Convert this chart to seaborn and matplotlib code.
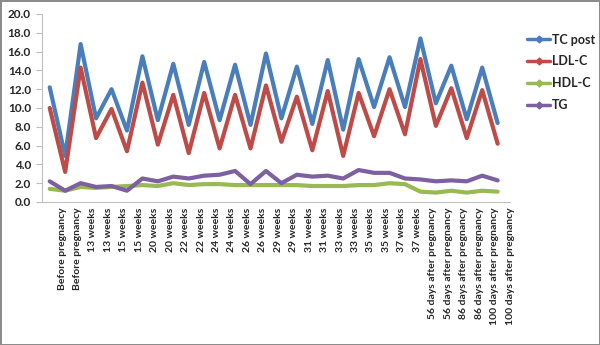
#!/usr/bin/env python

import numpy as np
import pandas as pd
import matplotlib.pyplot as plt
import matplotlib as mpl
import seaborn as sns

## ============================== ##

categories = ['Before pregnancy', 'Before pregnancy',
	'13 weeks', '13 weeks', '15 weeks', '15 weeks', '20 weeks', '20 weeks',
	'22 weeks', '22 weeks', '24 weeks', '24 weeks', '26 weeks', '26 weeks',
	'29 weeks', '29 weeks', '31 weeks', '31 weeks', '33 weeks', '33 weeks',
	'35 weeks', '35 weeks', '37 weeks', '37 weeks',
	'56 days after pregnancy', '56 days after pregnancy',
	'86 days after pregnancy', '86 days after pregnancy',
	'100 days after pregnancy', '100 days after pregnancy']

tc_post = [12.2, 4.9, 16.8, 8.9, 12.0, 7.6, 15.5, 8.7, 14.7, 8.2,
	14.9, 8.7, 14.6, 8.2, 15.8, 8.9, 14.4, 8.3, 15.1, 7.7,
	15.2, 10.1, 15.4, 10.1, 17.4, 10.5, 14.5, 8.8, 14.3, 8.4]
ldl_c = [10.0, 3.2, 14.3, 6.8, 9.9, 5.4, 12.7, 6.1, 11.4, 5.2,
	11.6, 5.7, 11.4, 5.7, 12.4, 6.4, 11.2, 5.5, 11.8, 4.9,
	11.6, 7.0, 12.0, 7.2, 15.2, 8.1, 12.1, 6.8, 11.9, 6.2]
hdl_c = [1.4, 1.2, 1.6, 1.5, 1.6, 1.7, 1.8, 1.7, 2.0, 1.8,
	1.9, 1.9, 1.8, 1.8, 1.8, 1.8, 1.8, 1.7, 1.7, 1.7,
	1.8, 1.8, 2.0, 1.9, 1.1, 1.0, 1.2, 1.0, 1.2, 1.1]
tg = [2.2, 1.2, 2.0, 1.6, 1.7, 1.2, 2.5, 2.2, 2.7, 2.5,
	2.8, 2.9, 3.3, 1.9, 3.3, 2.0, 2.9, 2.7, 2.8, 2.5,
	3.4, 3.1, 3.1, 2.5, 2.4, 2.2, 2.3, 2.2, 2.8, 2.3]

series_names = ['TC post', 'LDL-C', 'HDL-C', 'TG']
colors = ['#4A7EBB', '#BE4B48', '#98B954', '#7D60A0']

## ============================== ##

df = pd.DataFrame({'x': np.arange(len(categories))})
df['TC post'] = tc_post
df['LDL-C'] = ldl_c
df['HDL-C'] = hdl_c
df['TG'] = tg
dfm = df.melt(id_vars='x', var_name='series', value_name='value')

## ============================== ##

sns.set_style('white')
plt.rcParams['font.family'] = ['Lato', 'DejaVu Sans']
plt.rcParams['font.weight'] = 'bold'

fig = plt.figure(figsize=(6., 3.45), dpi=100)
fig.patch.set_edgecolor('#8C8C8C')
fig.patch.set_linewidth(2.)
ax = fig.add_axes([0.07, 0.4145, 0.78, 0.545])

sns.lineplot(ax=ax, data=dfm, x='x', y='value', hue='series',
		hue_order=series_names, palette=colors, lw=3., legend=False)

ax.set_xlim(-0.5, len(categories) - 0.5)
ax.set_ylim(0., 20.)
ax.set_yticks(np.arange(0., 20.1, 2.))
ax.set_yticklabels(['{0:.1f}'.format(v) for v in np.arange(0., 20.1, 2.)], fontsize=8.5, fontweight='bold')

# labels sit a bit to the right of their points, as in the original
ax.set_xticks(np.arange(len(categories)) + 0.8)
ax.set_xticklabels(categories, rotation=90, fontsize=7.5, fontweight='bold', va='top', ha='center')
ax.set_xticks(np.arange(-0.5, len(categories)), minor=True)
ax.tick_params(axis='x', which='major', length=0, pad=4)
ax.tick_params(axis='x', which='minor', length=4, color='#BFBFBF', direction='inout')
ax.tick_params(axis='y', length=4, color='#BFBFBF', direction='out', left=True, pad=4)

ax.set_xlabel('')
ax.set_ylabel('')

for side in ['top', 'right']:
	ax.spines[side].set_visible(False)
for side in ['left', 'bottom']:
	ax.spines[side].set_color('#BFBFBF')
	ax.spines[side].set_linewidth(0.8)

handles = [mpl.lines.Line2D([], [], color=c, lw=2.5, marker='D', ms=3.5) for c in colors]
fig.legend(handles, series_names, loc='upper left', bbox_to_anchor=(0.86, 0.935),
		frameon=False, handlelength=1.8, handletextpad=0.2, labelspacing=0.78,
		prop={'weight': 'bold', 'size': 9})

fig.savefig('out.png', dpi=100)
